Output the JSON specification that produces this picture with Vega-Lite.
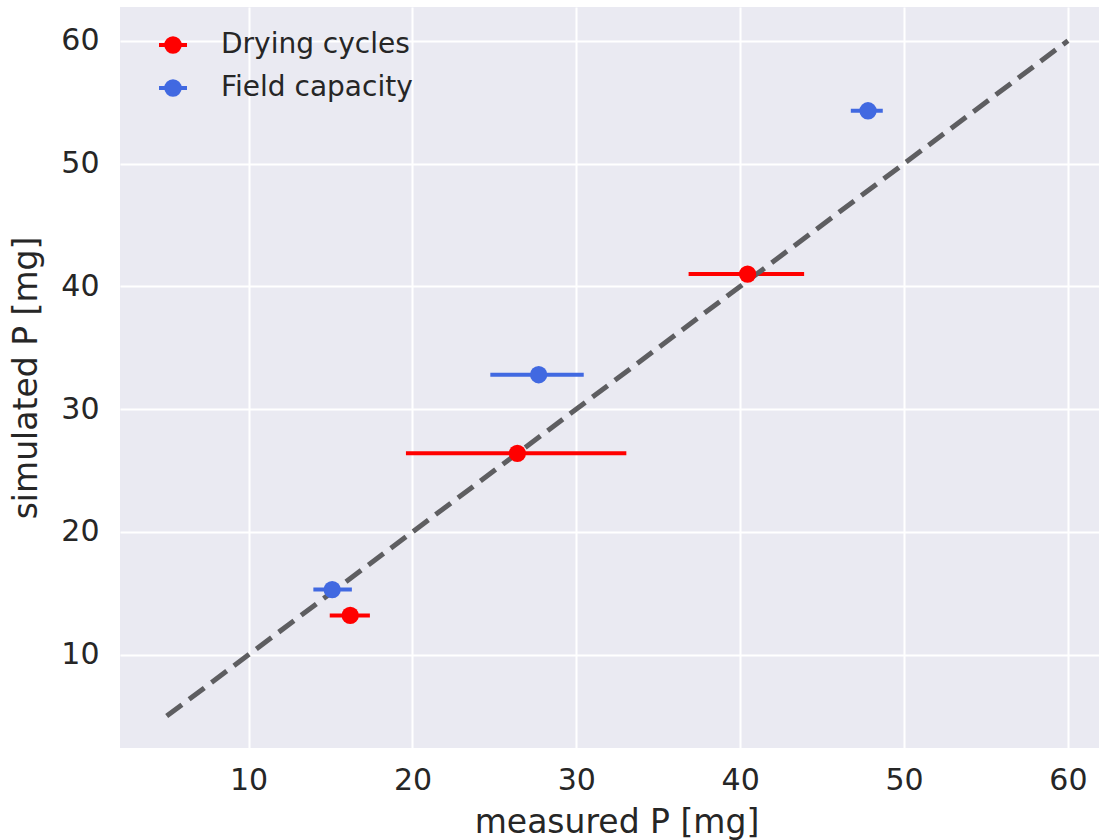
{
  "$schema": "https://vega.github.io/schema/vega-lite/v6.json",
  "width": 993,
  "height": 741,
  "autosize": {"type": "none"},
  "padding": {"left": 120, "top": 7, "right": 0, "bottom": 92},
  "config": {
    "font": "DejaVu Sans",
    "view": {"fill": "#EAEAF2", "stroke": null},
    "axis": {
      "grid": true,
      "gridColor": "#FFFFFF",
      "gridWidth": 2,
      "domain": false,
      "ticks": false,
      "tickSize": 0,
      "labelFont": "DejaVu Sans",
      "labelFontSize": 30,
      "labelColor": "#262626",
      "titleFont": "DejaVu Sans",
      "titleFontSize": 33,
      "titleColor": "#262626",
      "titleFontWeight": "normal"
    },
    "axisX": {"labelPadding": 17, "titlePadding": 11},
    "axisY": {"labelPadding": 21, "titlePadding": 17}
  },
  "datasets": {
    "pts": [
      {"series": "Drying cycles", "x": 16.2, "y": 13.2, "xlo": 14.95, "xhi": 17.4},
      {"series": "Drying cycles", "x": 26.4, "y": 26.4, "xlo": 19.6, "xhi": 33.05},
      {"series": "Drying cycles", "x": 40.45, "y": 41.0, "xlo": 36.85, "xhi": 43.9},
      {"series": "Field capacity", "x": 15.1, "y": 15.3, "xlo": 13.95, "xhi": 16.3},
      {"series": "Field capacity", "x": 27.7, "y": 32.8, "xlo": 24.75, "xhi": 30.45},
      {"series": "Field capacity", "x": 47.8, "y": 54.3, "xlo": 46.75, "xhi": 48.7}
    ],
    "diag": [
      {"x": 5, "y": 5},
      {"x": 60, "y": 60}
    ]
  },
  "layer": [
    {
      "data": {"name": "pts"},
      "mark": {"type": "rule", "strokeWidth": 4},
      "encoding": {
        "x": {
          "field": "xlo",
          "type": "quantitative",
          "scale": {"domain": [2.15, 62.75], "nice": false, "zero": false},
          "axis": {"values": [10, 20, 30, 40, 50, 60]},
          "title": "measured P [mg]"
        },
        "x2": {"field": "xhi"},
        "y": {
          "field": "y",
          "type": "quantitative",
          "scale": {"domain": [2.4, 62.75], "nice": false, "zero": false},
          "axis": {"values": [10, 20, 30, 40, 50, 60]},
          "title": "simulated P [mg]"
        },
        "color": {
          "field": "series",
          "type": "nominal",
          "scale": {"domain": ["Drying cycles", "Field capacity"], "range": ["#FF0000", "#4169E1"]},
          "legend": {
            "orient": "none",
            "legendX": 37,
            "legendY": 22,
            "title": null,
            "padding": 0,
            "symbolType": "M-1,0L1,0M0.48,0A0.48,0.48,0,1,1,-0.48,0A0.48,0.48,0,1,1,0.48,0Z",
            "symbolSize": 784,
            "symbolStrokeWidth": 4,
            "symbolOpacity": 1,
            "labelFont": "DejaVu Sans",
            "labelFontSize": 28,
            "labelColor": "#262626",
            "labelOffset": 32,
            "labelLimit": 400,
            "rowPadding": 12,
            "encode": {
              "symbols": {"update": {
                "stroke": {"scale": "color", "field": "value"},
                "fill": {"scale": "color", "field": "value"}
              }}
            }
          }
        }
      }
    },
    {
      "data": {"name": "diag"},
      "mark": {"type": "line", "strokeDash": [19, 9], "strokeWidth": 5, "color": "#5E5E61"},
      "encoding": {
        "x": {"field": "x", "type": "quantitative"},
        "y": {"field": "y", "type": "quantitative"}
      }
    },
    {
      "data": {"name": "pts"},
      "mark": {"type": "circle", "size": 300, "opacity": 1},
      "encoding": {
        "x": {"field": "x", "type": "quantitative"},
        "y": {"field": "y", "type": "quantitative"},
        "color": {"field": "series", "type": "nominal"}
      }
    }
  ]
}
